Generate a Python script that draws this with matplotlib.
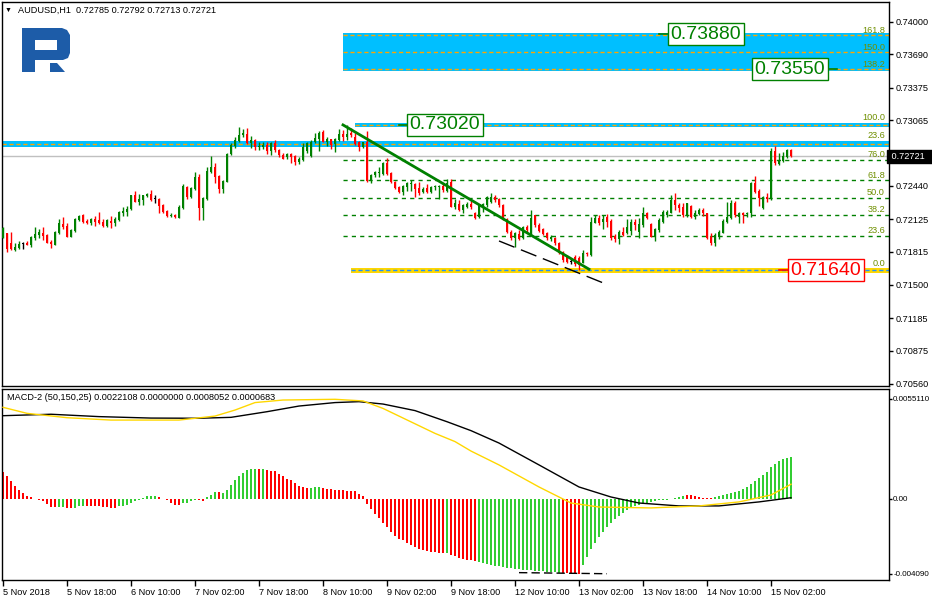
import numpy as np
import matplotlib
matplotlib.use("Agg")
import matplotlib.pyplot as plt
from matplotlib.patches import Rectangle, Polygon
from matplotlib import transforms

plt.rcParams['font.family'] = ['Liberation Sans', 'DejaVu Sans']

# ---------------- data ----------------
header_text = "AUDUSD,H1  0.72785 0.72792 0.72713 0.72721"
macd_header = "MACD-2 (50,150,25) 0.0022108 0.0000000 0.0008052 0.0000683"

opens = [
0.71949, 0.71990, 0.71902, 0.71832, 0.71851, 0.71889, 0.71895, 0.71880, 0.71946, 0.71975,
0.71990, 0.71975, 0.71911, 0.71883, 0.71990, 0.72079, 0.72060, 0.71956, 0.72016, 0.72117,
0.72160, 0.72111, 0.72085, 0.72123, 0.72117, 0.72097, 0.72060, 0.72108, 0.72085, 0.72117,
0.72187, 0.72196, 0.72218, 0.72351, 0.72288, 0.72307, 0.72345, 0.72364, 0.72313, 0.72313,
0.72263, 0.72203, 0.72152, 0.72165, 0.72139, 0.72231, 0.72430, 0.72332, 0.72408, 0.72525,
0.72231, 0.72313, 0.72576, 0.72617, 0.72535, 0.72411, 0.72481, 0.72741, 0.72820, 0.72870,
0.72921, 0.72934, 0.72845, 0.72877, 0.72807, 0.72807, 0.72832, 0.72775, 0.72851, 0.72782,
0.72734, 0.72712, 0.72744, 0.72725, 0.72668, 0.72687, 0.72775, 0.72725, 0.72858, 0.72883,
0.72953, 0.72858, 0.72883, 0.72836, 0.72877, 0.72934, 0.72908, 0.72946, 0.72908, 0.72854,
0.72807, 0.72861, 0.72491, 0.72544, 0.72560, 0.72554, 0.72661, 0.72560, 0.72481, 0.72427,
0.72386, 0.72434, 0.72459, 0.72459, 0.72418, 0.72386, 0.72418, 0.72386, 0.72427, 0.72427,
0.72440, 0.72396, 0.72478, 0.72237, 0.72266, 0.72212, 0.72243, 0.72266, 0.72187, 0.72142,
0.72243, 0.72259, 0.72291, 0.72332, 0.72313, 0.72259, 0.72123, 0.72006, 0.71943, 0.71984,
0.71943, 0.72047, 0.71984, 0.72161, 0.72069, 0.72028, 0.71990, 0.71933, 0.71949, 0.71902,
0.71816, 0.71768, 0.71721, 0.71768, 0.71753, 0.71712, 0.71807, 0.71784, 0.72092, 0.72133,
0.72101, 0.72142, 0.72111, 0.71965, 0.71933, 0.72006, 0.71990, 0.72016, 0.72101, 0.72006,
0.72069, 0.72180, 0.72076, 0.71959, 0.72022, 0.72101, 0.72165, 0.72187, 0.72307, 0.72259,
0.72237, 0.72165, 0.72250, 0.72142, 0.72174, 0.72212, 0.72180, 0.71959, 0.71902, 0.71952,
0.71997, 0.72101, 0.72133, 0.72275, 0.72149, 0.72180, 0.72174, 0.72187, 0.72465, 0.72396,
0.72228, 0.72332, 0.72323, 0.72775, 0.72649, 0.72680, 0.72718, 0.72785]

highs = [
0.72054, 0.71997, 0.72000, 0.71902, 0.71921, 0.71905, 0.71921, 0.71965, 0.72054, 0.72032,
0.72047, 0.71981, 0.71927, 0.72009, 0.72123, 0.72142, 0.72092, 0.72028, 0.72139, 0.72164,
0.72174, 0.72123, 0.72133, 0.72155, 0.72193, 0.72123, 0.72127, 0.72155, 0.72149, 0.72199,
0.72237, 0.72253, 0.72358, 0.72392, 0.72364, 0.72358, 0.72377, 0.72402, 0.72358, 0.72323,
0.72269, 0.72212, 0.72180, 0.72174, 0.72259, 0.72459, 0.72440, 0.72434, 0.72576, 0.72554,
0.72339, 0.72617, 0.72725, 0.72655, 0.72544, 0.72497, 0.72750, 0.72845, 0.72908, 0.73003,
0.72978, 0.72987, 0.72915, 0.72883, 0.72858, 0.72858, 0.72858, 0.72858, 0.72877, 0.72788,
0.72756, 0.72756, 0.72756, 0.72731, 0.72712, 0.72845, 0.72858, 0.72877, 0.72940, 0.72965,
0.72972, 0.72902, 0.72889, 0.72896, 0.72981, 0.72972, 0.73020, 0.72987, 0.72940, 0.72864,
0.72861, 0.72962, 0.72551, 0.72582, 0.72623, 0.72671, 0.72703, 0.72576, 0.72487, 0.72440,
0.72446, 0.72481, 0.72497, 0.72472, 0.72481, 0.72434, 0.72459, 0.72440, 0.72449, 0.72449,
0.72459, 0.72503, 0.72503, 0.72313, 0.72307, 0.72269, 0.72288, 0.72307, 0.72196, 0.72269,
0.72282, 0.72345, 0.72370, 0.72354, 0.72323, 0.72269, 0.72133, 0.72022, 0.72006, 0.72022,
0.72060, 0.72069, 0.72212, 0.72168, 0.72085, 0.72038, 0.72006, 0.71975, 0.71958, 0.71911,
0.71825, 0.71784, 0.71753, 0.71784, 0.71775, 0.71832, 0.71816, 0.72142, 0.72165, 0.72165,
0.72165, 0.72174, 0.72123, 0.71984, 0.72022, 0.72047, 0.72123, 0.72123, 0.72123, 0.72133,
0.72237, 0.72196, 0.72085, 0.72038, 0.72133, 0.72212, 0.72212, 0.72354, 0.72377, 0.72275,
0.72282, 0.72282, 0.72259, 0.72212, 0.72228, 0.72228, 0.72187, 0.71990, 0.71990, 0.72022,
0.72123, 0.72291, 0.72307, 0.72301, 0.72196, 0.72196, 0.72196, 0.72481, 0.72535, 0.72408,
0.72345, 0.72377, 0.72798, 0.72820, 0.72756, 0.72766, 0.72795, 0.72792]

lows = [
0.71943, 0.71816, 0.71832, 0.71826, 0.71845, 0.71845, 0.71876, 0.71864, 0.71927, 0.71943,
0.71927, 0.71895, 0.71854, 0.71880, 0.71981, 0.72028, 0.71952, 0.71952, 0.72006, 0.72108,
0.72092, 0.72082, 0.72070, 0.72063, 0.72079, 0.72047, 0.72047, 0.72041, 0.72060, 0.72108,
0.72155, 0.72155, 0.72212, 0.72285, 0.72259, 0.72259, 0.72332, 0.72301, 0.72282, 0.72180,
0.72180, 0.72149, 0.72142, 0.72136, 0.72136, 0.72225, 0.72313, 0.72323, 0.72402, 0.72117,
0.72117, 0.72307, 0.72560, 0.72472, 0.72377, 0.72377, 0.72478, 0.72731, 0.72798, 0.72858,
0.72908, 0.72839, 0.72798, 0.72782, 0.72782, 0.72788, 0.72744, 0.72737, 0.72763, 0.72712,
0.72693, 0.72699, 0.72655, 0.72639, 0.72649, 0.72680, 0.72750, 0.72718, 0.72845, 0.72775,
0.72855, 0.72820, 0.72794, 0.72766, 0.72864, 0.72870, 0.72877, 0.72908, 0.72829, 0.72775,
0.72798, 0.72481, 0.72465, 0.72528, 0.72528, 0.72544, 0.72544, 0.72465, 0.72411, 0.72377,
0.72354, 0.72396, 0.72396, 0.72332, 0.72351, 0.72370, 0.72370, 0.72370, 0.72402, 0.72317,
0.72386, 0.72386, 0.72237, 0.72218, 0.72206, 0.72180, 0.72228, 0.72225, 0.72123, 0.72133,
0.72196, 0.72237, 0.72282, 0.72291, 0.72243, 0.72117, 0.71990, 0.71927, 0.71857, 0.71927,
0.71933, 0.72006, 0.71975, 0.72054, 0.72006, 0.71975, 0.71927, 0.71921, 0.71880, 0.71794,
0.71721, 0.71705, 0.71699, 0.71680, 0.71640, 0.71705, 0.71775, 0.71775, 0.72085, 0.72069,
0.72028, 0.72054, 0.71927, 0.71911, 0.71889, 0.71965, 0.71984, 0.71975, 0.72022, 0.71943,
0.72054, 0.72123, 0.71952, 0.71921, 0.72006, 0.72092, 0.72142, 0.72180, 0.72212, 0.72196,
0.72149, 0.72142, 0.72133, 0.72123, 0.72161, 0.72155, 0.71933, 0.71880, 0.71870, 0.71933,
0.71990, 0.72092, 0.72123, 0.72149, 0.72092, 0.72092, 0.72142, 0.72142, 0.72370, 0.72250,
0.72218, 0.72291, 0.72307, 0.72639, 0.72639, 0.72671, 0.72703, 0.72713]

closes = [
0.72038, 0.71839, 0.71839, 0.71864, 0.71889, 0.71889, 0.71883, 0.71952, 0.71984, 0.72003,
0.71965, 0.71902, 0.71889, 0.72003, 0.72085, 0.72047, 0.71959, 0.72022, 0.72130, 0.72155,
0.72097, 0.72092, 0.72123, 0.72097, 0.72085, 0.72060, 0.72117, 0.72085, 0.72127, 0.72193,
0.72206, 0.72225, 0.72351, 0.72291, 0.72320, 0.72351, 0.72364, 0.72307, 0.72313, 0.72250,
0.72193, 0.72155, 0.72161, 0.72142, 0.72240, 0.72440, 0.72332, 0.72418, 0.72528, 0.72231,
0.72329, 0.72585, 0.72617, 0.72528, 0.72411, 0.72491, 0.72744, 0.72826, 0.72877, 0.72924,
0.72940, 0.72845, 0.72877, 0.72807, 0.72813, 0.72832, 0.72775, 0.72851, 0.72782, 0.72734,
0.72699, 0.72744, 0.72718, 0.72671, 0.72696, 0.72813, 0.72845, 0.72858, 0.72896, 0.72940,
0.72861, 0.72883, 0.72826, 0.72883, 0.72934, 0.72908, 0.72934, 0.72924, 0.72839, 0.72807,
0.72854, 0.72491, 0.72544, 0.72576, 0.72576, 0.72655, 0.72554, 0.72475, 0.72418, 0.72386,
0.72440, 0.72465, 0.72472, 0.72408, 0.72370, 0.72408, 0.72386, 0.72434, 0.72437, 0.72440,
0.72402, 0.72472, 0.72243, 0.72275, 0.72212, 0.72259, 0.72269, 0.72237, 0.72133, 0.72259,
0.72269, 0.72332, 0.72332, 0.72307, 0.72259, 0.72123, 0.72006, 0.71943, 0.71990, 0.71933,
0.72047, 0.72022, 0.72133, 0.72066, 0.72016, 0.71984, 0.71943, 0.71958, 0.71895, 0.71800,
0.71737, 0.71721, 0.71721, 0.71699, 0.71689, 0.71807, 0.71794, 0.72101, 0.72133, 0.72085,
0.72123, 0.72101, 0.71943, 0.71933, 0.72006, 0.71975, 0.72047, 0.72101, 0.72069, 0.72079,
0.72187, 0.72133, 0.71959, 0.72028, 0.72117, 0.72196, 0.72196, 0.72307, 0.72259, 0.72228,
0.72165, 0.72275, 0.72142, 0.72180, 0.72212, 0.72180, 0.71943, 0.71895, 0.71975, 0.72006,
0.72111, 0.72142, 0.72282, 0.72165, 0.72180, 0.72161, 0.72187, 0.72465, 0.72386, 0.72323,
0.72332, 0.72313, 0.72775, 0.72655, 0.72687, 0.72725, 0.72785, 0.72721]

hist = [
0.00148, 0.00126, 0.00099, 0.00070, 0.00051, 0.00033, 0.00018, 0.00011, 0.00002, -0.00007,
-0.00013, -0.00026, -0.00044, -0.00044, -0.00044, -0.00044, -0.00048, -0.00048, -0.00049, -0.00040,
-0.00038, -0.00038, -0.00038, -0.00038, -0.00038, -0.00044, -0.00044, -0.00048, -0.00048, -0.00040,
-0.00037, -0.00031, -0.00022, -0.00011, -0.00006, 0.00006, 0.00015, 0.00015, 0.00015, 0.00011,
0.00002, -0.00007, -0.00022, -0.00033, -0.00033, -0.00022, -0.00022, -0.00013, -0.00004, -0.00007,
-0.00013, 0.00009, 0.00022, 0.00037, 0.00037, 0.00031, 0.00051, 0.00075, 0.00102, 0.00124,
0.00143, 0.00157, 0.00163, 0.00163, 0.00163, 0.00163, 0.00157, 0.00156, 0.00152, 0.00139,
0.00124, 0.00112, 0.00102, 0.00088, 0.00073, 0.00066, 0.00060, 0.00060, 0.00064, 0.00064,
0.00062, 0.00057, 0.00053, 0.00048, 0.00048, 0.00048, 0.00044, 0.00044, 0.00042, 0.00026,
0.00015, -0.00029, -0.00057, -0.00081, -0.00106, -0.00132, -0.00156, -0.00183, -0.00205, -0.00218,
-0.00227, -0.00240, -0.00252, -0.00263, -0.00273, -0.00280, -0.00285, -0.00289, -0.00293, -0.00295,
-0.00295, -0.00295, -0.00307, -0.00315, -0.00322, -0.00329, -0.00333, -0.00335, -0.00340, -0.00346,
-0.00351, -0.00357, -0.00362, -0.00368, -0.00368, -0.00373, -0.00379, -0.00379, -0.00384, -0.00384,
-0.00390, -0.00390, -0.00390, -0.00395, -0.00395, -0.00395, -0.00400, -0.00400, -0.00400, -0.00406,
-0.00406, -0.00406, -0.00406, -0.00408, -0.00409, -0.00362, -0.00318, -0.00274, -0.00241, -0.00208,
-0.00181, -0.00154, -0.00132, -0.00110, -0.00093, -0.00077, -0.00060, -0.00049, -0.00038, -0.00033,
-0.00027, -0.00022, -0.00016, -0.00011, -0.00008, -0.00005, -0.00003, 0.00002, 0.00005, 0.00010,
0.00016, 0.00022, 0.00022, 0.00016, 0.00010, 0.00008, 0.00005, 0.00005, 0.00010, 0.00016,
0.00022, 0.00027, 0.00033, 0.00038, 0.00044, 0.00055, 0.00066, 0.00082, 0.00099, 0.00115,
0.00132, 0.00148, 0.00176, 0.00192, 0.00208, 0.00218, 0.00226, 0.00233]

hist_colors = ("rrrrrrrrrrrrrr" "gg" "rr" "ggg" "rrrrrrrr" "gggggggggg" "rrrrrr" "gggg" "rr"
               "ggg" "r" "ggggggggg" "r" "g" "rrrrrrrrrrr" "ggg" + "r" * 31 + "g" + "r" * 7
               + "g" * 21 + "r" * 5 + "g" * 26 + "r" * 7 + "g" * 20)

black_x = [0, 12, 24, 37, 49, 57, 66, 74, 83, 89, 95, 103, 111, 117, 124, 134, 144, 152, 159, 169, 179, 189, 197]
black_v = [0.00457, 0.00465, 0.00452, 0.00444, 0.00443, 0.00448, 0.00479, 0.00510, 0.00529, 0.00534,
           0.00521, 0.00485, 0.00424, 0.00375, 0.00307, 0.00187, 0.00066, 0.00011, -0.00022, -0.00038,
           -0.00038, -0.00016, 0.00007]
yellow_x = [0, 6, 16, 27, 44, 53, 58, 63, 70, 83, 90, 95, 108, 113, 117, 124, 134, 142, 149, 162, 174, 184, 192, 197]
yellow_v = [0.00503, 0.00470, 0.00446, 0.00433, 0.00433, 0.00455, 0.00488, 0.00529, 0.00543, 0.00547,
            0.00538, 0.00497, 0.00360, 0.00315, 0.00263, 0.00187, 0.00066, -0.00022, -0.00044, -0.00049,
            -0.00038, -0.00016, 0.00022, 0.00081]

price_ticks = [0.74000, 0.73690, 0.73375, 0.73065, 0.72440, 0.72125, 0.71815, 0.71500, 0.71185, 0.70875, 0.70560]
macd_ticks = [0.005511, 0.0, -0.00409]
macd_tick_labels = ["0.0055110", "0.00", "-0.004090"]
time_tick_idx = [0, 16, 32, 48, 64, 80, 96, 112, 128, 144, 160, 176, 192]
time_tick_labels = ["5 Nov 2018", "5 Nov 18:00", "6 Nov 10:00", "7 Nov 02:00", "7 Nov 18:00",
                    "8 Nov 10:00", "9 Nov 02:00", "9 Nov 18:00", "12 Nov 10:00", "13 Nov 02:00",
                    "13 Nov 18:00", "14 Nov 10:00", "15 Nov 02:00"]

current_price = 0.72721
fib_low, fib_high = 0.71640, 0.73020
fib_start = 85
fib_ratios_inner = [23.6, 38.2, 50.0, 61.8, 76.0]
fib_ratios_ext = [138.2, 150.0, 161.8]
extra_level = 0.72840          # band labelled 23.6 spanning whole chart
trend_x = [85, 146.5]
trend_y = [0.73020, 0.71650]
support_x = [124, 150.75]
support_y = [0.71918, 0.71509]
macd_dash_x = [129, 151]
macd_dash_y = [-0.00404, -0.00410]
targets = [("0.73880", 175.75, 0.73880, 164.0, 167.0, "#008000"),
           ("0.73550", 196.75, 0.73550, 206.0, 208.5, "#008000"),
           ("0.73020", 110.5, 0.73020, 99.0, 101.5, "#008000"),
           ("0.71640", 205.75, 0.71640, 194.0, 196.7, "#ff0000")]

# ---------------- figure ----------------
W, H = 932, 601
fig = plt.figure(figsize=(W / 100, H / 100), dpi=100)
fig.patch.set_facecolor("white")

def fx(px):
    return px / W

def fy(py):
    return 1 - py / H

ax1 = fig.add_axes([fx(2), fy(386), fx(889) - fx(2), fy(2) - fy(386)])
ax2 = fig.add_axes([fx(2), fy(580), fx(889) - fx(2), fy(389) - fy(580)])

XL = (-0.25, 221.5)
for ax in (ax1, ax2):
    ax.set_xlim(*XL)
    for s in ax.spines.values():
        s.set_color("black")
        s.set_linewidth(1.0)
ax1.set_ylim(0.705409, 0.74187)
ax2.set_ylim(-0.004444, 0.006035)

GREEN = "#008000"
RED = "#ff0000"
SMALL = 6.6
fibc = "#6f8f00"

# ---- bands / fib ----
ax1.add_patch(Rectangle((fib_start, fib_low + 1.382 * (fib_high - fib_low) - 0.00013), XL[1] - fib_start,
                        (1.618 - 1.382) * (fib_high - fib_low) + 0.00030, color="#00bfff", lw=0, zorder=1))
ax1.add_patch(Rectangle((88, fib_high - 0.00022), XL[1] - 88, 0.00044, color="#00bfff", lw=0, zorder=1))
ax1.add_patch(Rectangle((XL[0], extra_level - 0.00030), XL[1] - XL[0], 0.00060, color="#00bfff", lw=0, zorder=1))
ax1.add_patch(Rectangle((87, fib_low - 0.00024), XL[1] - 87, 0.00048, color="#ffd700", lw=0, zorder=1))

for r in fib_ratios_ext:
    lv = fib_low + r / 100 * (fib_high - fib_low)
    ax1.plot([fib_start, XL[1]], [lv, lv], color="#ffa500", lw=1, dashes=(3, 2), zorder=2)
    ax1.text(XL[1] - 1, lv + 0.00004, f"{r:.1f}", color=fibc, fontsize=SMALL, ha="right", va="bottom", zorder=5)
ax1.plot([88, XL[1]], [fib_high, fib_high], color="#ffa500", lw=1, dashes=(3, 2), zorder=2)
ax1.text(XL[1] - 1, fib_high + 0.00025, "100.0", color=fibc, fontsize=SMALL, ha="right", va="bottom", zorder=5)
ax1.plot([XL[0], XL[1]], [extra_level, extra_level], color="#ffa500", lw=1, dashes=(3, 2), zorder=2)
ax1.text(XL[1] - 1, extra_level + 0.00032, "23.6", color=fibc, fontsize=SMALL, ha="right", va="bottom", zorder=5)
for r in fib_ratios_inner:
    lv = fib_low + r / 100 * (fib_high - fib_low)
    ax1.plot([fib_start, XL[1]], [lv, lv], color=GREEN, lw=1, dashes=(3, 3), zorder=2)
    ax1.text(XL[1] - 1, lv + 0.00006, f"{r:.1f}", color=fibc, fontsize=SMALL, ha="right", va="bottom", zorder=5)
ax1.plot([87, XL[1]], [fib_low, fib_low], color="#1e90ff", lw=1, dashes=(3, 2), zorder=2)
ax1.text(XL[1] - 1, fib_low + 0.00024, "0.0", color=fibc, fontsize=SMALL, ha="right", va="bottom", zorder=5)

# current price line
ax1.axhline(current_price, color="#c0c0c0", lw=1, zorder=1.5)

# ---- candles ----
idx = np.arange(len(opens))
for i in idx:
    o, h, l, c = opens[i], highs[i], lows[i], closes[i]
    col = GREEN if c > o else (RED if c < o else "black")
    ax1.plot([i, i], [l, h], color=col, lw=1, solid_capstyle="butt", zorder=3)
    b = min(o, c)
    hh = max(abs(c - o), 0.00009)
    ax1.add_patch(Rectangle((i - 0.36, b), 0.72, hh, color=col, lw=0, zorder=3.5))

# trend lines
ax1.plot(trend_x, trend_y, color=GREEN, lw=2, zorder=4)
ax1.plot(support_x, support_y, color="black", lw=1, dashes=(12, 5), zorder=4)

# price target labels
for txt, xc, yv, lx0, lx1, col in targets:
    ax1.plot([lx0, lx1], [yv, yv], color=col, lw=1.2, zorder=6)
    ax1.text(xc, yv, txt, color=col, fontsize=14, ha="center", va="center", zorder=7,
             bbox=dict(boxstyle="square,pad=0.12", fc="white", ec=col, lw=1))

# axes ticks
ax1.yaxis.tick_right()
ax1.set_yticks(price_ticks)
ax1.set_yticklabels([f"{v:.5f}" for v in price_ticks])
ax1.tick_params(axis="y", direction="out", length=3, width=1, pad=2, labelsize=SMALL, colors="black")
ax1.set_xticks([])
blend1 = transforms.blended_transform_factory(ax1.transAxes, ax1.transData)
ax1.text(1.0, current_price, " 0.72721  ", transform=blend1, ha="left", va="center", fontsize=SMALL,
         color="white", zorder=10, clip_on=False,
         bbox=dict(boxstyle="square,pad=0.25", fc="black", ec="black"))

# ---- MACD ----
ax2.bar(idx, hist, width=0.7, color=["#32cd32" if ch == "g" else RED for ch in hist_colors],
        linewidth=0, zorder=2)
ax2.plot(black_x, black_v, color="black", lw=1, zorder=3)
ax2.plot(yellow_x, yellow_v, color="#ffd700", lw=1, zorder=3)
ax2.plot(macd_dash_x, macd_dash_y, color="black", lw=1, dashes=(6, 3), zorder=3)

ax2.yaxis.tick_right()
ax2.set_yticks(macd_ticks)
ax2.set_yticklabels(macd_tick_labels)
ax2.tick_params(axis="y", direction="out", length=2, width=1, pad=1, labelsize=5.8, colors="black")
ax2.set_xticks(time_tick_idx)
ax2.set_xticklabels(time_tick_labels, ha="left")
ax2.tick_params(axis="x", direction="out", length=4, width=1, pad=2, labelsize=SMALL, colors="black")

# headers
fig.text(fx(5), fy(10.5), "\u25BC", fontsize=5, va="center", ha="left", color="black")
fig.text(fx(18), fy(10.5), header_text, fontsize=SMALL, va="center", ha="left", color="black")
fig.text(fx(7), fy(397.5), macd_header, fontsize=SMALL, va="center", ha="left", color="black")

# logo
def pts(seq):
    return [(fx(x), fy(y)) for x, y in seq]

logo_c = "#1d5ca8"
outer = [(22, 72), (22, 28), (62, 28), (67, 30), (70, 35), (70, 53), (68, 58), (63, 60), (35, 60), (35, 72)]
fig.patches.append(Polygon(pts(outer), closed=True, transform=fig.transFigure, fc=logo_c, ec="none", zorder=20))
hole = [(35, 40), (57, 40), (57, 50), (35, 50)]
fig.patches.append(Polygon(pts(hole), closed=True, transform=fig.transFigure, fc="white", ec="none", zorder=21))
leg = [(50, 63), (57, 63), (65, 72), (50, 72)]
fig.patches.append(Polygon(pts(leg), closed=True, transform=fig.transFigure, fc=logo_c, ec="none", zorder=20))

fig.savefig("out.png", dpi=100)
